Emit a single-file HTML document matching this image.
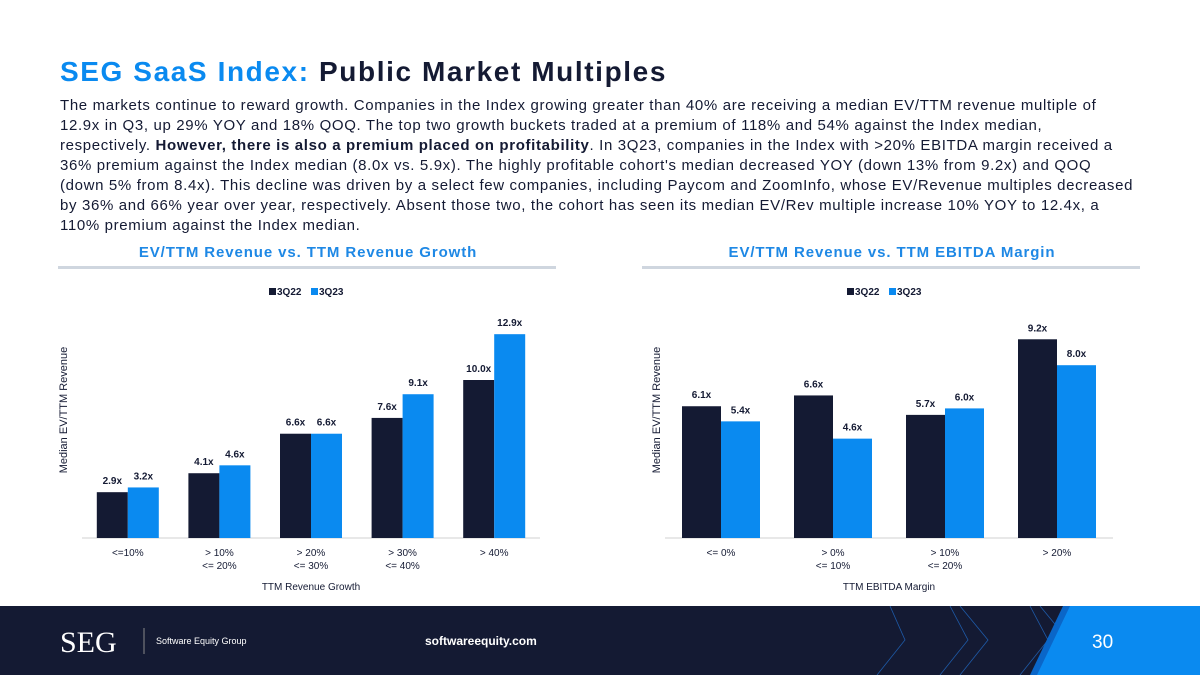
<!DOCTYPE html>
<html><head><meta charset="utf-8"><style>
body{margin:0;width:1200px;height:675px;overflow:hidden;background:#fff;font-family:"Liberation Sans",sans-serif;position:relative}
.t{position:absolute;left:60px;top:56px;font-size:28px;font-weight:bold;color:#141a33;margin:0;letter-spacing:1.6px;white-space:nowrap}
.t span{color:#0a8af0}
.p{position:absolute;left:60px;top:96px;width:1135px;font-size:15px;line-height:20px;color:#141a33;margin:0;letter-spacing:0.65px;white-space:nowrap}
.ct{position:absolute;top:244px;font-size:15px;font-weight:bold;color:#1e88e5;text-align:center;letter-spacing:0.9px}
.rule{position:absolute;top:266px;height:3px;background:#cfd6df}
.foot{position:absolute;left:0;top:606px;width:1200px;height:69px;background:#141a33}
</style></head><body>
<h1 class="t"><span>SEG SaaS Index:</span> Public Market Multiples</h1>
<p class="p">The markets continue to reward growth. Companies in the Index growing greater than 40% are receiving a median EV/TTM revenue multiple of<br>12.9x in Q3, up 29% YOY and 18% QOQ. The top two growth buckets traded at a premium of 118% and 54% against the Index median,<br>respectively. <b>However, there is also a premium placed on profitability</b>. In 3Q23, companies in the Index with &gt;20% EBITDA margin received a<br>36% premium against the Index median (8.0x vs. 5.9x). The highly profitable cohort's median decreased YOY (down 13% from 9.2x) and QOQ<br>(down 5% from 8.4x). This decline was driven by a select few companies, including Paycom and ZoomInfo, whose EV/Revenue multiples decreased<br>by 36% and 66% year over year, respectively. Absent those two, the cohort has seen its median EV/Rev multiple increase 10% YOY to 12.4x, a<br>110% premium against the Index median.</p>
<div class="ct" style="left:58px;width:500px">EV/TTM Revenue vs. TTM Revenue Growth</div>
<div class="rule" style="left:58px;width:498px"></div>
<div class="ct" style="left:642px;width:500px">EV/TTM Revenue vs. TTM EBITDA Margin</div>
<div class="rule" style="left:642px;width:498px"></div>
<svg id="c" width="1200" height="675" style="position:absolute;left:0;top:0" font-family="Liberation Sans, sans-serif"></svg>
<div class="foot">
<svg width="1200" height="69" style="position:absolute;left:0;top:0">
<g stroke="#1e5aa8" fill="none" stroke-width="0.8">
<polyline points="890,0 905,34 877,69"/><polyline points="950,0 968,34 940,69"/><polyline points="960,0 988,34 960,69"/>
<polyline points="1030,0 1048,34 1020,69"/><polyline points="1040,0 1068,34 1040,69"/><polyline points="1110,0 1130,34 1100,69"/>
<polyline points="1180,0 1200,34 1170,69"/></g>
<polygon points="1030,69 1063,0 1200,0 1200,69" fill="#0a66c8"/>
<polygon points="1037,69 1070,0 1200,0 1200,69" fill="#0a8af0"/>
<text x="60" y="46" font-family="Liberation Serif, serif" font-size="30" fill="#fff">SEG</text>
<line x1="144" y1="22" x2="144" y2="48" stroke="#888"/>
<text x="156" y="38" font-size="9" fill="#fff">Software Equity Group</text>
<text x="425" y="39" font-size="12" font-weight="bold" fill="#fff">softwareequity.com</text>
<text x="1092" y="42" font-size="19" fill="#fff">30</text>
</svg></div>
<script>
const cats1=["<=10%","> 10%|<= 20%","> 20%|<= 30%","> 30%|<= 40%","> 40%"];
const s1a=[2.9,4.1,6.6,7.6,10.0];
const s1b=[3.2,4.6,6.6,9.1,12.9];
const cats2=["<= 0%","> 0%|<= 10%","> 10%|<= 20%","> 20%"];
const s2a=[6.1,6.6,5.7,9.2];
const s2b=[5.4,4.6,6.0,8.0];
const svg=document.getElementById('c');const NS="http://www.w3.org/2000/svg";
function mk(t,a,txt){const e=document.createElementNS(NS,t);for(const k in a)e.setAttribute(k,a[k]);if(txt!=null)e.textContent=txt;svg.appendChild(e);return e;}
function chart(id,cats,A,B,x0,x1,base,scale,bw,ytitleX,xtitle,xtX){
  const n=cats.length,step=(x1-x0)/n;
  let e=mk('line',{x1:x0,x2:x1,y1:base,y2:base,stroke:'#d0d0d0'});
  
  cats.forEach((c,i)=>{
    const cx=x0+step*(i+.5);
    [[A[i],cx-bw,'#141a33','3q22'],[B[i],cx,'#0a8af0','3q23']].forEach(([v,x,col,s])=>{
      const h=v*scale;
      const r=mk('rect',{x:x,y:base-h,width:bw,height:h,fill:col});
      
      const l=mk('text',{x:x+bw/2,y:base-h-8,'text-anchor':'middle','font-size':10,'font-weight':'bold',fill:'#141a33'},v.toFixed(1)+'x');
      
    });
    c.split('|').forEach((ln,j)=>{const t=mk('text',{x:cx,y:base+18+j*13,'text-anchor':'middle','font-size':10,fill:'#141a33'},ln);
      });
  });
  const yt=mk('text',{x:ytitleX,y:410,'text-anchor':'middle','font-size':11,fill:'#141a33',transform:`rotate(-90 ${ytitleX} 410)`},'Median EV/TTM Revenue');
  
  const xt=mk('text',{x:xtX,y:590,'text-anchor':'middle','font-size':10,fill:'#141a33'},xtitle);
  
  const lx=(x0+x1)/2-42;
  const l1=mk('rect',{x:lx,y:288,width:7,height:7,fill:'#141a33'});
  mk('text',{x:lx+8,y:295,'font-size':10,'font-weight':'bold',fill:'#141a33'},'3Q22');
  const l2=mk('rect',{x:lx+42,y:288,width:7,height:7,fill:'#0a8af0'});
  mk('text',{x:lx+50,y:295,'font-size':10,'font-weight':'bold',fill:'#141a33'},'3Q23');
}
chart('chart1',cats1,s1a,s1b,82,540,538,15.8,31,67,'TTM Revenue Growth',311);
chart('chart2',cats2,s2a,s2b,665,1113,538,21.6,39,660,'TTM EBITDA Margin',889);
</script>
</body></html>
